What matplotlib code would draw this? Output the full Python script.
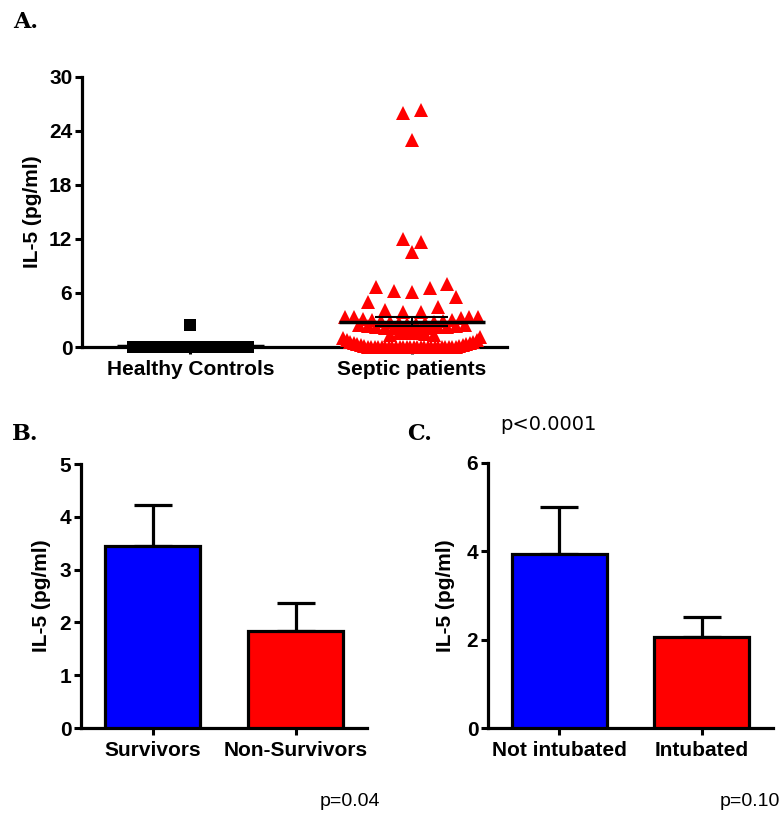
import numpy as np
import matplotlib
matplotlib.use('Agg')
import matplotlib.pyplot as plt

plt.rcParams['font.family'] = ['Liberation Sans', 'DejaVu Sans']
plt.rcParams['font.weight'] = 'bold'
plt.rcParams['axes.labelweight'] = 'bold'

# panel A data (IL-5, pg/ml), listed left to right inside each row of the swarm
groups = ['Healthy Controls', 'Septic patients']
controls = [0]*14 + [2.45]
septic = ([1.0, 0.8, 0.6, 0.45, 0.3, 0.2, 0.1] + [0]*26 + [0.1, 0.2, 0.3, 0.45, 0.6, 0.8, 1.1]
          + [1.3, 1.5, 1.6, 1.5, 1.4, 1.3]
          + [2.4, 2.3, 2.2, 2.1, 2.1, 2.0, 2.0, 2.0, 2.1, 2.2, 2.2, 2.3, 2.4]
          + [3.3, 3.3, 3.1, 3.0, 2.9, 2.8, 2.7, 2.6, 2.6, 2.7, 2.8, 2.9, 3.0, 3.2, 3.3, 3.3]
          + [5.0, 6.7, 4.1, 6.2, 3.9, 6.1, 3.9, 6.5, 4.4, 7.0, 5.6]
          + [12.0, 10.6, 11.7]
          + [26.0, 23.0, 26.3])
row_edges = [0, 1.2, 1.8, 2.5, 3.6, 8, 15, 31]

# panel B / C data: mean and upper SEM
surv_labels = ['Survivors', 'Non-Survivors']
surv_mean = [3.45, 1.84]
surv_sem = [0.77, 0.53]
intub_labels = ['Not intubated', 'Intubated']
intub_mean = [3.94, 2.06]
intub_sem = [1.06, 0.45]

W, H = 784, 813
FS = 15


def px_axes(fig, left, top, right, bottom):
    return fig.add_axes([left/W, 1-bottom/H, (right-left)/W, (bottom-top)/H])


def style(ax):
    for s in ['top', 'right']:
        ax.spines[s].set_visible(False)
    for s in ['left', 'bottom']:
        ax.spines[s].set_linewidth(2.3)
    ax.tick_params(width=2.2, length=5, labelsize=FS, pad=2)
    ax.tick_params(axis='x', pad=4)


def swarm(center, vals, step=0.04, maxw=0.62):
    vals = np.asarray(vals, float)
    xs = np.zeros(len(vals))
    rows = np.digitize(vals, row_edges)
    for r in np.unique(rows):
        idx = np.where(rows == r)[0]
        n = len(idx)
        sp = step if n < 2 else min(step, maxw/(n-1))
        xs[idx] = center + (np.arange(n)-(n-1)/2)*sp
    return xs, vals


fig = plt.figure(figsize=(W/100, H/100), dpi=100)

# ---- A ----
ax = px_axes(fig, 82, 77, 507, 347)
style(ax)
for i, (vals, mk, col, ms) in enumerate([(controls, 's', 'black', 8), (septic, '^', 'red', 10)]):
    x, y = swarm(i, vals)
    ax.plot(x, y, mk, color=col, ms=ms, mew=0, clip_on=False, zorder=3)
    m = np.mean(vals)
    sem = np.std(vals, ddof=1)/np.sqrt(len(vals))
    ax.hlines(m, i-0.33, i+0.33, color='black', lw=2.5, zorder=5, clip_on=False)
    ax.vlines(i, m-sem, m+sem, color='black', lw=1.5, zorder=5)
    ax.hlines([m-sem, m+sem], i-0.165, i+0.165, color='black', lw=1.5, zorder=5)
ax.set_xlim(-0.49, 1.43)
ax.set_ylim(0, 30)
ax.set_yticks([0, 6, 12, 18, 24, 30])
ax.set_xticks([0, 1])
ax.set_xticklabels(groups)
ax.set_ylabel('IL-5 (pg/ml)', fontsize=FS)
ax.yaxis.set_label_coords(-0.095, 0.5)

# ---- B and C ----
for box, labels, means, sems, yt, lc in [((81, 464, 367, 728), surv_labels, surv_mean, surv_sem, [0, 1, 2, 3, 4, 5], -0.105),
                                         ((488, 463, 773, 728), intub_labels, intub_mean, intub_sem, [0, 2, 4, 6], -0.115)]:
    ax = px_axes(fig, *box)
    style(ax)
    x = np.arange(len(means))
    ax.bar(x, means, width=0.67, color=['#0000ff', '#ff0000'], edgecolor='black', linewidth=2.3, zorder=3)
    ax.errorbar(x, means, yerr=[np.zeros(len(sems)), sems], fmt='none', ecolor='black',
                elinewidth=2.3, capsize=14, capthick=2.3, zorder=2)
    ax.set_xlim(-0.5, 1.5)
    ax.set_ylim(0, yt[-1])
    ax.set_yticks(yt)
    ax.set_xticks(x)
    ax.set_xticklabels(labels)
    ax.set_ylabel('IL-5 (pg/ml)', fontsize=FS)
    ax.yaxis.set_label_coords(lc, 0.5)

# panel letters and p values
for txt, xl, yb in [('A.', 13, 28), ('B.', 12, 440), ('C.', 407, 440)]:
    fig.text(xl/W, 1-yb/H, txt, family='DejaVu Serif', weight='bold', fontsize=16, va='baseline')
fig.text(500/W, 1-430/H, 'p<0.0001', family='DejaVu Sans', weight='normal', fontsize=14, va='baseline')
for txt, xl, yb in [('p=0.04', 320, 806), ('p=0.10', 720, 806)]:
    fig.text(xl/W, 1-yb/H, txt, weight='normal', fontsize=14, va='baseline')

fig.savefig('out.png', dpi=100)
